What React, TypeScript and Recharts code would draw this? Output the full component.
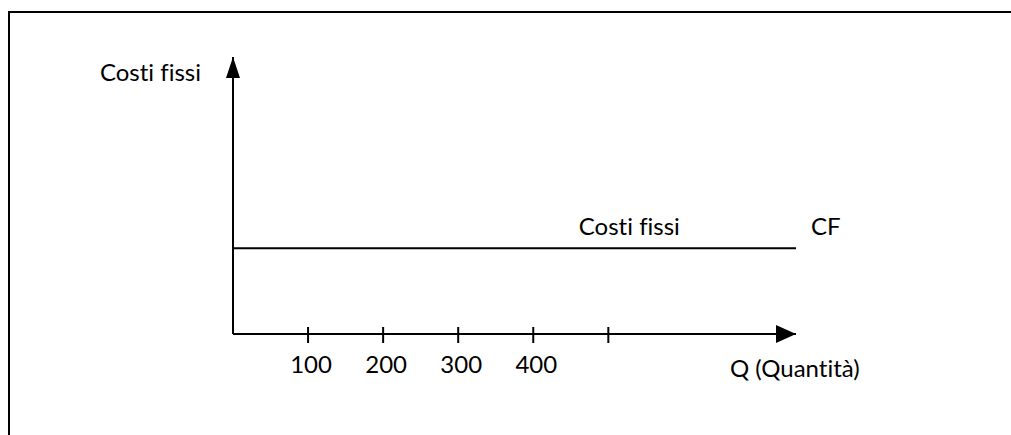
import React from 'react';
import { LineChart, Line, XAxis, YAxis, ReferenceDot } from 'recharts';

// Data
const quantities = [0, 750];
const fixedCosts = [31, 31];
const xTicks = [100, 200, 300, 400, 500];
const xTickLabels = ['100', '200', '300', '400', ''];
const yAxisTitle = 'Costi fissi';
const xAxisTitle = 'Q (Quantità)';
const lineLabel = 'Costi fissi';
const lineEndLabel = 'CF';
const lineLabelAt = 528;
const xMax = 750;
const yMax = 100;

const data = quantities.map((q, i) => ({ q, cf: fixedCosts[i] }));

const FONT = 'Lato, "DejaVu Sans", sans-serif';
const FS = 24;
const textStyle: React.CSSProperties = { fontVariantLigatures: 'none', fontFeatureSettings: '"liga" 0, "clig" 0' };

const T = (p: any) => (
  <text
    x={p.x}
    y={p.y}
    textAnchor={p.anchor}
    fontFamily={FONT}
    fontSize={FS}
    fill="#000"
    style={textStyle}
  >
    {p.children}
  </text>
);

const XTick = (props: any) => {
  const { x, y, payload } = props;
  const idx = xTicks.indexOf(payload.value);
  return (
    <g>
      <line x1={x} x2={x} y1={y - 7} y2={y + 9} stroke="#000" strokeWidth={2} />
      <T x={x + 3} y={y + 39} anchor="middle">{xTickLabels[idx]}</T>
    </g>
  );
};

const XArrowWithTitle = (props: any) => {
  const { cx, cy } = props;
  return (
    <g>
      <polygon points={`${cx},${cy} ${cx - 20},${cy - 9} ${cx - 20},${cy + 9}`} fill="#000" />
      <T x={cx - 66} y={cy + 43} anchor="start">{xAxisTitle}</T>
    </g>
  );
};

const YArrow = (props: any) => {
  const { cx, cy } = props;
  return (
    <g>
      <polygon points={`${cx},${cy} ${cx - 7},${cy + 21} ${cx + 7},${cy + 21}`} fill="#000" />
      <T x={cx - 32} y={cy + 24} anchor="end">{yAxisTitle}</T>
    </g>
  );
};

const EndLabel = (props: any) => {
  const { cx, cy } = props;
  return <T x={cx + 15} y={cy - 13} anchor="start">{lineEndLabel}</T>;
};

const MidLabel = (props: any) => {
  const { cx, cy } = props;
  return <T x={cx} y={cy - 13} anchor="middle">{lineLabel}</T>;
};

export default function App() {
  return (
    <div style={{ position: 'fixed', left: 0, top: 0, width: 1011, height: 435, background: '#fff', overflow: 'hidden' }}>
      <div style={{ position: 'absolute', left: 8, width: 1003, top: 11, height: 2, background: '#000' }} />
      <div style={{ position: 'absolute', left: 8, top: 11, height: 424, width: 2, background: '#000' }} />
      <div style={{ position: 'absolute', left: 0, top: 0 }}>
        <LineChart
          width={1011}
          height={435}
          data={data}
          margin={{ top: 57, right: 215, bottom: 71, left: 232 }}
        >
          <XAxis
            dataKey="q"
            type="number"
            domain={[0, xMax]}
            ticks={xTicks}
            interval={0}
            axisLine={{ stroke: '#000', strokeWidth: 2 }}
            tickLine={false}
            tickSize={0}
            tickMargin={0}
            tick={<XTick />}
            height={30}
            allowDataOverflow
          />
          <YAxis
            type="number"
            domain={[0, yMax]}
            axisLine={{ stroke: '#000', strokeWidth: 2 }}
            tick={false}
            tickLine={false}
            width={1}
            allowDataOverflow
          />
          <Line
            dataKey="cf"
            stroke="#000"
            strokeWidth={2}
            dot={false}
            activeDot={false}
            isAnimationActive={false}
          />
          <ReferenceDot x={xMax} y={0} r={0} shape={<XArrowWithTitle />} ifOverflow="visible" />
          <ReferenceDot x={0} y={yMax} r={0} shape={<YArrow />} ifOverflow="visible" />
          <ReferenceDot x={xMax} y={fixedCosts[1]} r={0} shape={<EndLabel />} ifOverflow="visible" />
          <ReferenceDot x={lineLabelAt} y={fixedCosts[1]} r={0} shape={<MidLabel />} ifOverflow="visible" />
        </LineChart>
      </div>
    </div>
  );
}
